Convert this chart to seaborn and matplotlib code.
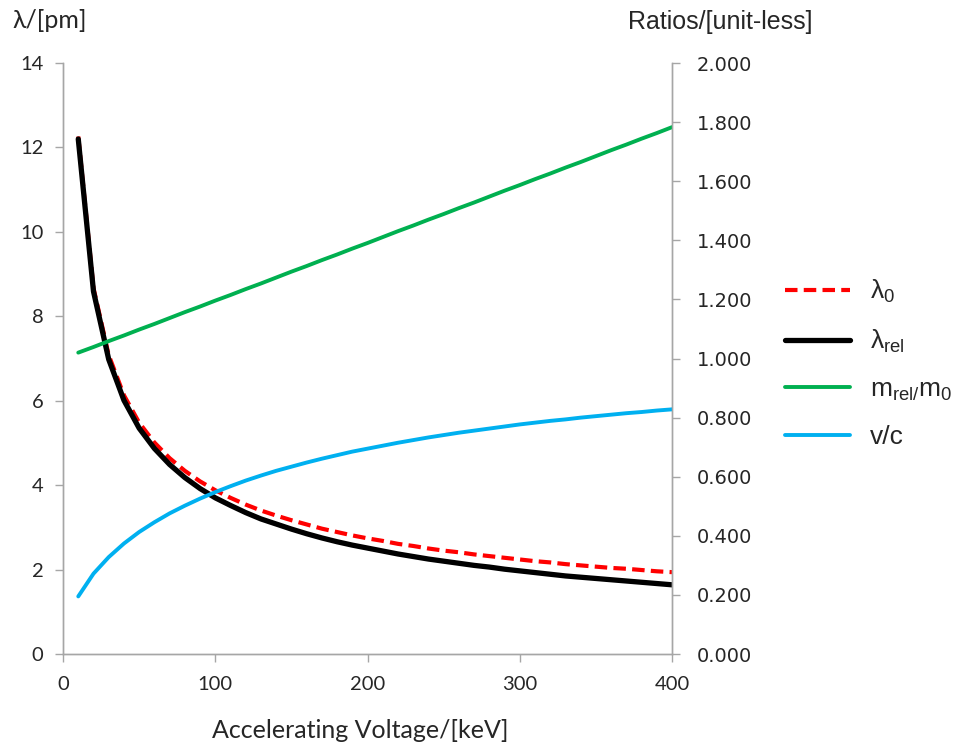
import matplotlib
matplotlib.use("Agg")
import matplotlib.pyplot as plt
import seaborn as sns
from matplotlib.lines import Line2D

voltage_kev = [10, 20, 30, 40, 50, 60, 70, 80, 90, 100,
               110, 120, 130, 140, 150, 160, 170, 180, 190, 200,
               210, 220, 230, 240, 250, 260, 270, 280, 290, 300,
               310, 320, 330, 340, 350, 360, 370, 380, 390, 400]

lambda0_pm = [12.26, 8.67, 7.08, 6.13, 5.48, 5.01, 4.64, 4.34, 4.09, 3.88,
              3.70, 3.54, 3.40, 3.28, 3.17, 3.07, 2.97, 2.89, 2.81, 2.74,
              2.68, 2.61, 2.56, 2.50, 2.45, 2.41, 2.36, 2.32, 2.28, 2.24,
              2.20, 2.17, 2.13, 2.10, 2.07, 2.04, 2.02, 1.99, 1.96, 1.94]

lambda_rel_pm = [12.20, 8.59, 6.98, 6.01, 5.35, 4.87, 4.49, 4.18, 3.92, 3.70,
                 3.52, 3.35, 3.20, 3.08, 2.96, 2.85, 2.75, 2.66, 2.58, 2.51,
                 2.44, 2.37, 2.31, 2.25, 2.20, 2.15, 2.10, 2.06, 2.01, 1.97,
                 1.93, 1.89, 1.85, 1.82, 1.79, 1.76, 1.73, 1.70, 1.67, 1.64]

mass_ratio = [1.020, 1.039, 1.059, 1.078, 1.098, 1.117, 1.137, 1.157, 1.176, 1.196,
              1.215, 1.235, 1.254, 1.274, 1.294, 1.313, 1.333, 1.352, 1.372, 1.391,
              1.411, 1.431, 1.450, 1.470, 1.489, 1.509, 1.528, 1.548, 1.568, 1.587,
              1.607, 1.626, 1.646, 1.665, 1.685, 1.705, 1.724, 1.744, 1.763, 1.783]

v_over_c = [0.195, 0.272, 0.328, 0.374, 0.413, 0.446, 0.476, 0.502, 0.526, 0.548,
            0.568, 0.587, 0.604, 0.620, 0.634, 0.648, 0.661, 0.673, 0.685, 0.695,
            0.705, 0.715, 0.724, 0.733, 0.741, 0.749, 0.756, 0.763, 0.770, 0.777,
            0.783, 0.789, 0.794, 0.800, 0.805, 0.810, 0.815, 0.819, 0.824, 0.828]

left_ticks = [0, 2, 4, 6, 8, 10, 12, 14]
right_ticks = [0.0, 0.2, 0.4, 0.6, 0.8, 1.0, 1.2, 1.4, 1.6, 1.8, 2.0]
x_ticks = [0, 100, 200, 300, 400]
legend_labels = ["λ$_0$", "λ$_{\\mathrm{rel}}$", "m$_{\\mathrm{rel/}}$m$_0$", "v/c"]

sns.set_theme(style="white")
plt.rcParams["font.family"] = ["Lato", "DejaVu Sans"]
plt.rcParams["mathtext.fontset"] = "custom"
plt.rcParams["mathtext.rm"] = "Liberation Sans"
plt.rcParams["mathtext.it"] = "Liberation Sans:italic"

GRAY = "#A6A6A6"
TXT = "#262626"
RED_DASH = (0, (3.0, 1.5))

fig = plt.figure(figsize=(9.61, 7.45), dpi=100)
ax = fig.add_axes([0.0656, 0.1221, 0.6337, 0.7933])
ax2 = ax.twinx()

sns.lineplot(x=voltage_kev, y=lambda0_pm, ax=ax, color="#FF0000", lw=3.0,
             linestyle=RED_DASH, estimator=None, sort=False)
sns.lineplot(x=voltage_kev, y=lambda_rel_pm, ax=ax, color="black", lw=3.8,
             estimator=None, sort=False)
sns.lineplot(x=voltage_kev, y=mass_ratio, ax=ax2, color="#00B050", lw=2.8,
             estimator=None, sort=False)
sns.lineplot(x=voltage_kev, y=v_over_c, ax=ax2, color="#00B0F0", lw=2.8,
             estimator=None, sort=False)

ax.set_xlim(0, 400)
ax.set_ylim(0, 14)
ax2.set_ylim(0, 2.0)
ax.set_xticks(x_ticks)
ax.set_yticks(left_ticks)
ax2.set_yticks(right_ticks)
ax2.set_yticklabels([f"{t:.3f}" for t in right_ticks])

for a in (ax, ax2):
    a.set_xlabel("")
    a.set_ylabel("")
    a.spines["top"].set_visible(False)
    for s in ("left", "right", "bottom"):
        a.spines[s].set_color(GRAY)
        a.spines[s].set_linewidth(1.0)
    a.grid(False)

ax.tick_params(axis="both", which="major", direction="out", length=6, width=1,
               color=GRAY, labelcolor=TXT, labelsize=14.5, left=True, bottom=True)
ax.tick_params(axis="x", pad=10)
ax.tick_params(axis="y", pad=8)
ax2.tick_params(axis="y", direction="out", length=6, width=1, color=GRAY,
                labelcolor=TXT, labelsize=14, right=True, pad=12)
for lab in ax2.get_yticklabels():
    lab.set_fontfamily("DejaVu Sans")

fig.text(0.013, 0.972, "λ/[pm]", fontsize=18, color=TXT,
         ha="left", va="center", family=["Lato", "DejaVu Sans"])
fig.text(0.749, 0.970, "Ratios/[unit-less]", fontsize=18, color=TXT,
         ha="center", va="center", family=["Liberation Sans", "DejaVu Sans"])
fig.text(0.375, 0.020, "Accelerating Voltage/[keV]", fontsize=18, color=TXT,
         ha="center", va="center", family=["Lato", "DejaVu Sans"])

handles = [
    Line2D([], [], color="#FF0000", lw=3.0, linestyle=RED_DASH),
    Line2D([], [], color="black", lw=3.8),
    Line2D([], [], color="#00B050", lw=2.8),
    Line2D([], [], color="#00B0F0", lw=2.8),
]
leg = fig.legend(handles, legend_labels, loc="center left", bbox_to_anchor=(0.817, 0.512),
                 frameon=False, handlelength=2.45, handletextpad=0.75,
                 labelspacing=0.85, borderpad=0, borderaxespad=0,
                 prop={"family": ["Liberation Sans", "DejaVu Sans"], "size": 19})
for t in leg.get_texts():
    t.set_color(TXT)

fig.savefig("out.png", dpi=100, facecolor="white")
